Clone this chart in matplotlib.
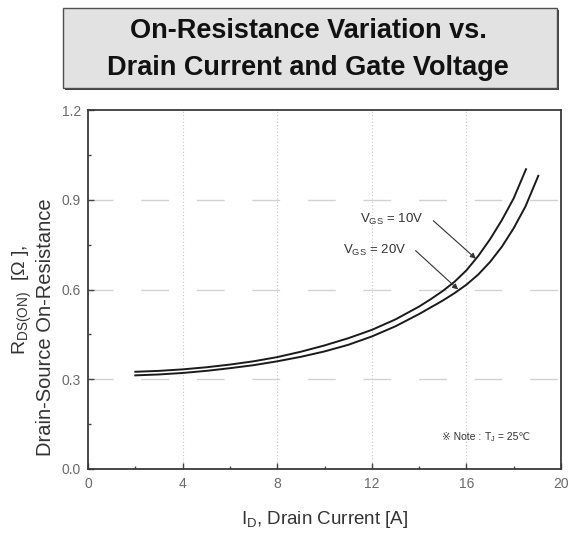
import matplotlib
matplotlib.use("Agg")
import matplotlib.pyplot as plt
from matplotlib.patches import Rectangle
from matplotlib.ticker import MultipleLocator
from matplotlib.transforms import offset_copy

plt.rcParams['font.family'] = ['Liberation Sans', 'DejaVu Sans', 'Noto Sans CJK JP']
plt.rcParams['mathtext.fontset'] = 'custom'
plt.rcParams['mathtext.rm'] = 'Liberation Sans'
plt.rcParams['mathtext.it'] = 'Liberation Sans'

# Data
id_10v = [2, 3, 4, 5, 6, 7, 8, 9, 10, 11, 12, 13, 14, 14.5, 15, 15.5, 16, 16.5, 17, 17.5, 18, 18.52]
r_10v = [0.325, 0.328, 0.333, 0.340, 0.349, 0.360, 0.374, 0.392, 0.413, 0.437, 0.465, 0.500,
         0.543, 0.568, 0.595, 0.626, 0.664, 0.712, 0.768, 0.832, 0.905, 1.002]
id_20v = [2, 3, 4, 5, 6, 7, 8, 9, 10, 11, 12, 13, 14, 15, 15.5, 16, 16.5, 17, 17.5, 18, 18.5, 19.04]
r_20v = [0.313, 0.316, 0.321, 0.328, 0.337, 0.347, 0.360, 0.375, 0.393, 0.415, 0.443, 0.477,
         0.518, 0.563, 0.588, 0.616, 0.650, 0.692, 0.743, 0.805, 0.878, 0.980]

x_ticks = [0, 4, 8, 12, 16, 20]
y_ticks = [0.0, 0.3, 0.6, 0.9, 1.2]
y_tick_labels = ["0.0", "0.3", "0.6", "0.9", "1.2"]

W, H = 570, 534
fig = plt.figure(figsize=(W / 100, H / 100), dpi=100)
ax = fig.add_axes([88 / W, 65 / H, (561 - 88) / W, (469 - 110) / H])

# grid
for xv in x_ticks[1:-1]:
    ax.axvline(xv, color='#c8c8c8', lw=0.8, ls=(0, (1, 2)), zorder=0)
for yv in y_ticks[1:-1]:
    ax.axhline(yv, color='#d2d2d2', lw=1.0, ls=(2, (20, 20)), zorder=0)

ax.plot(id_10v, r_10v, color='#1a1a1a', lw=1.4)
ax.plot(id_20v, r_20v, color='#1a1a1a', lw=1.4)

ax.set_xlim(0, 20)
ax.set_ylim(0, 1.2)
ax.set_xticks(x_ticks)
ax.set_yticks(y_ticks)
ax.set_yticklabels(y_tick_labels)
ax.xaxis.set_minor_locator(MultipleLocator(2))
ax.yaxis.set_minor_locator(MultipleLocator(0.15))
ax.tick_params(which='both', direction='in', colors='#444444', labelcolor='#6a6a6a',
               labelsize=10, top=False, right=False)
ax.tick_params(which='major', length=4, width=1)
ax.tick_params(which='minor', length=2.5, width=1)
ax.tick_params(axis='x', pad=6)
ax.tick_params(axis='y', pad=5)
for s in ax.spines.values():
    s.set_color('#3a3a3a')
    s.set_linewidth(1.3)

# axis labels
fig.text(325 / W, 1 - 520 / H, r"I$_{\mathrm{D}}$, Drain Current [A]", fontsize=13.5,
         color='#333333', ha='center', va='center')
fig.text(22 / W, 1 - 300 / H, "R$_{\\mathrm{DS(ON)}}$  [Ω ],", fontsize=14,
         color='#333333', ha='center', va='center', rotation=90)
fig.text(46 / W, 1 - 327 / H, "Drain-Source On-Resistance", fontsize=14.5,
         color='#333333', ha='center', va='center', rotation=90)

# annotations
ax.annotate("", xy=(16.4, 0.703), xytext=(14.6, 0.83),
            arrowprops=dict(arrowstyle='-|>', color='#333333', lw=0.8, mutation_scale=8, shrinkA=0, shrinkB=0))
ax.annotate("", xy=(15.65, 0.60), xytext=(13.85, 0.73),
            arrowprops=dict(arrowstyle='-|>', color='#333333', lw=0.8, mutation_scale=8, shrinkA=0, shrinkB=0))
ax.text(14.2, 0.835, r"V$_{\mathrm{GS}}$ = 10V", fontsize=9.5, color='#333333', ha='right', va='center')
ax.text(13.45, 0.73, r"V$_{\mathrm{GS}}$ = 20V", fontsize=9.5, color='#333333', ha='right', va='center')

# note text in pieces
fig.canvas.draw()
r = fig.canvas.get_renderer()
t1 = ax.text(14.95, 0.107, "※ Note : ", fontsize=7.5, color='#333333', ha='left', va='center')
w1 = t1.get_window_extent(r).width
t2 = ax.text(14.95, 0.107, r"T$_{\mathrm{J}}$", fontsize=7.5, color='#333333', ha='left', va='center',
             transform=offset_copy(ax.transData, fig=fig, x=w1, y=0, units='dots'))
w2 = t2.get_window_extent(r).width
ax.text(14.95, 0.107, " = 25℃", fontsize=7.5, color='#333333', ha='left', va='center',
        transform=offset_copy(ax.transData, fig=fig, x=w1 + w2, y=0, units='dots'))

# title box
fig.patches.append(Rectangle((65 / W, 1 - 90 / H), (559 - 65) / W, (90 - 10) / H, transform=fig.transFigure,
                             facecolor='#404040', edgecolor='none', zorder=0))
fig.patches.append(Rectangle((63 / W, 1 - 88 / H), (557 - 63) / W, (88 - 8) / H, transform=fig.transFigure,
                             facecolor='#e2e2e2', edgecolor='#505050', lw=1.0, zorder=1))
fig.text(308 / W, 1 - 31 / H, "On-Resistance Variation vs.", fontsize=19.5, fontweight='bold',
         ha='center', va='center', color='#111111')
fig.text(308 / W, 1 - 68 / H, "Drain Current and Gate Voltage", fontsize=19.5, fontweight='bold',
         ha='center', va='center', color='#111111')

fig.savefig("out.png", dpi=100)
